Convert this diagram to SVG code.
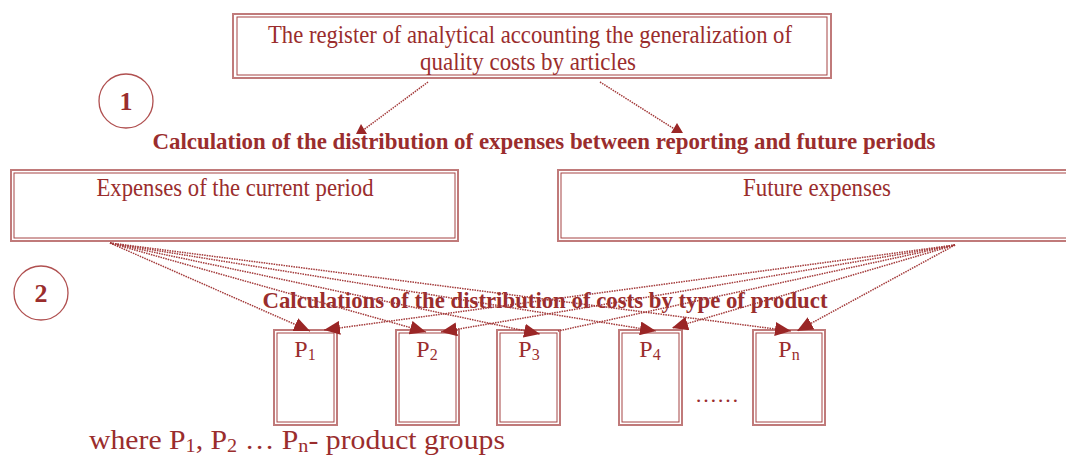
<svg xmlns="http://www.w3.org/2000/svg" width="1066" height="457" viewBox="0 0 1066 457">
<style>
.o{fill:none;stroke:#c07a7a;stroke-width:2}
.i{fill:none;stroke:#a54444;stroke-width:1}
.t{font-family:"Liberation Serif","Times New Roman",serif;fill:#9a2d2d}
.b{font-weight:bold}
.c{fill:#fff;stroke:#b05050;stroke-width:1.3}
.d{fill:none;stroke:#a33a3a;stroke-width:1.5;stroke-dasharray:1.5 1}
</style>
<defs>
<marker id="ah" markerUnits="userSpaceOnUse" markerWidth="18" markerHeight="14" refX="16" refY="7" orient="auto">
<path d="M0,0 L16,7 L0,14 Z" fill="#9a2626"/>
</marker>
</defs>
<rect width="1066" height="457" fill="#fff"/>
<g id="node-register">
<rect class="o" x="233" y="14" width="598" height="64"/>
<rect class="i" x="237" y="17" width="590" height="58"/>
<text class="t" x="530" y="43" font-size="26" text-anchor="middle" textLength="524" lengthAdjust="spacingAndGlyphs">The register of analytical accounting the generalization of</text>
<text class="t" x="528" y="70" font-size="26" text-anchor="middle" textLength="216" lengthAdjust="spacingAndGlyphs">quality costs by articles</text>
</g>
<g id="node-step1">
<circle class="c" cx="126" cy="101" r="27"/>
<text class="t b" x="126" y="110" font-size="26" text-anchor="middle">1</text>
</g>
<g id="node-step2">
<circle class="c" cx="41" cy="293" r="27"/>
<text class="t b" x="41" y="302" font-size="26" text-anchor="middle">2</text>
</g>
<g id="label-calc1">
<text class="t b" x="544" y="149" font-size="24" text-anchor="middle" textLength="783" lengthAdjust="spacingAndGlyphs">Calculation of the distribution of expenses between reporting and future periods</text>
</g>
<g id="node-current">
<rect class="o" x="11" y="170" width="447" height="71"/>
<rect class="i" x="14" y="173" width="441" height="65"/>
<text class="t" x="235" y="196" font-size="26" text-anchor="middle" textLength="277" lengthAdjust="spacingAndGlyphs">Expenses of the current period</text>
</g>
<g id="node-future">
<rect class="o" x="558" y="170" width="512" height="71"/>
<rect class="i" x="561" y="173" width="510" height="65"/>
<text class="t" x="817" y="196" font-size="26" text-anchor="middle" textLength="148" lengthAdjust="spacingAndGlyphs">Future expenses</text>
</g>
<g id="node-p1">
<rect class="o" x="274" y="330" width="63" height="95"/>
<rect class="i" x="277" y="333" width="57" height="89"/>
<text class="t" x="305" y="357" font-size="24" text-anchor="middle">P<tspan font-size="16" dy="3">1</tspan></text>
</g>
<g id="node-p2">
<rect class="o" x="396" y="330" width="63" height="95"/>
<rect class="i" x="399" y="333" width="57" height="89"/>
<text class="t" x="427" y="357" font-size="24" text-anchor="middle">P<tspan font-size="16" dy="3">2</tspan></text>
</g>
<g id="node-p3">
<rect class="o" x="497" y="330" width="63" height="95"/>
<rect class="i" x="500" y="333" width="57" height="89"/>
<text class="t" x="529" y="357" font-size="24" text-anchor="middle">P<tspan font-size="16" dy="3">3</tspan></text>
</g>
<g id="node-p4">
<rect class="o" x="619" y="330" width="63" height="95"/>
<rect class="i" x="622" y="333" width="57" height="89"/>
<text class="t" x="650" y="357" font-size="24" text-anchor="middle">P<tspan font-size="16" dy="3">4</tspan></text>
</g>
<g id="node-pn">
<rect class="o" x="753" y="330" width="72" height="95"/>
<rect class="i" x="756" y="333" width="66" height="89"/>
<text class="t" x="789" y="357" font-size="24" text-anchor="middle">P<tspan font-size="16" dy="3">n</tspan></text>
</g>
<g id="label-dots">
<text class="t" x="717" y="402" font-size="22" text-anchor="middle">……</text>
</g>
<g id="label-calc2">
<text class="t b" x="545" y="308" font-size="24" text-anchor="middle" textLength="565" lengthAdjust="spacingAndGlyphs">Calculations of the distribution of costs by type of product</text>
</g>
<g id="connectors">
<path class="d" d="M428,82 L362,131"/>
<path class="d" d="M600,82 L676,130"/>
<path d="M361,124 L356,134 L367,134 Z" fill="#9a2626"/>
<path d="M677,123 L671,133 L683,133 Z" fill="#9a2626"/>
<path class="d" marker-end="url(#ah)" d="M110,243 L310,331"/>
<path class="d" marker-end="url(#ah)" d="M110,243 L426,332"/>
<path class="d" marker-end="url(#ah)" d="M110,243 L540,334"/>
<path class="d" marker-end="url(#ah)" d="M110,243 L656,331"/>
<path class="d" marker-end="url(#ah)" d="M110,243 L791,331"/>
<path class="d" marker-end="url(#ah)" d="M955,245 L324,330"/>
<path class="d" marker-end="url(#ah)" d="M955,245 L441,332"/>
<path class="d" d="M955,245 L558,331"/>
<path class="d" marker-end="url(#ah)" d="M955,245 L672,328"/>
<path class="d" marker-end="url(#ah)" d="M955,245 L797,331"/>
</g>
<g id="label-legend">
<text class="t" x="89" y="449" font-size="28" textLength="416" lengthAdjust="spacingAndGlyphs">where P<tspan font-size="19" dy="3">1</tspan><tspan dy="-3">, P</tspan><tspan font-size="19" dy="3">2</tspan><tspan dy="-3"> … P</tspan><tspan font-size="19" dy="3">n</tspan><tspan dy="-3">- product groups</tspan></text>
</g>
</svg>
